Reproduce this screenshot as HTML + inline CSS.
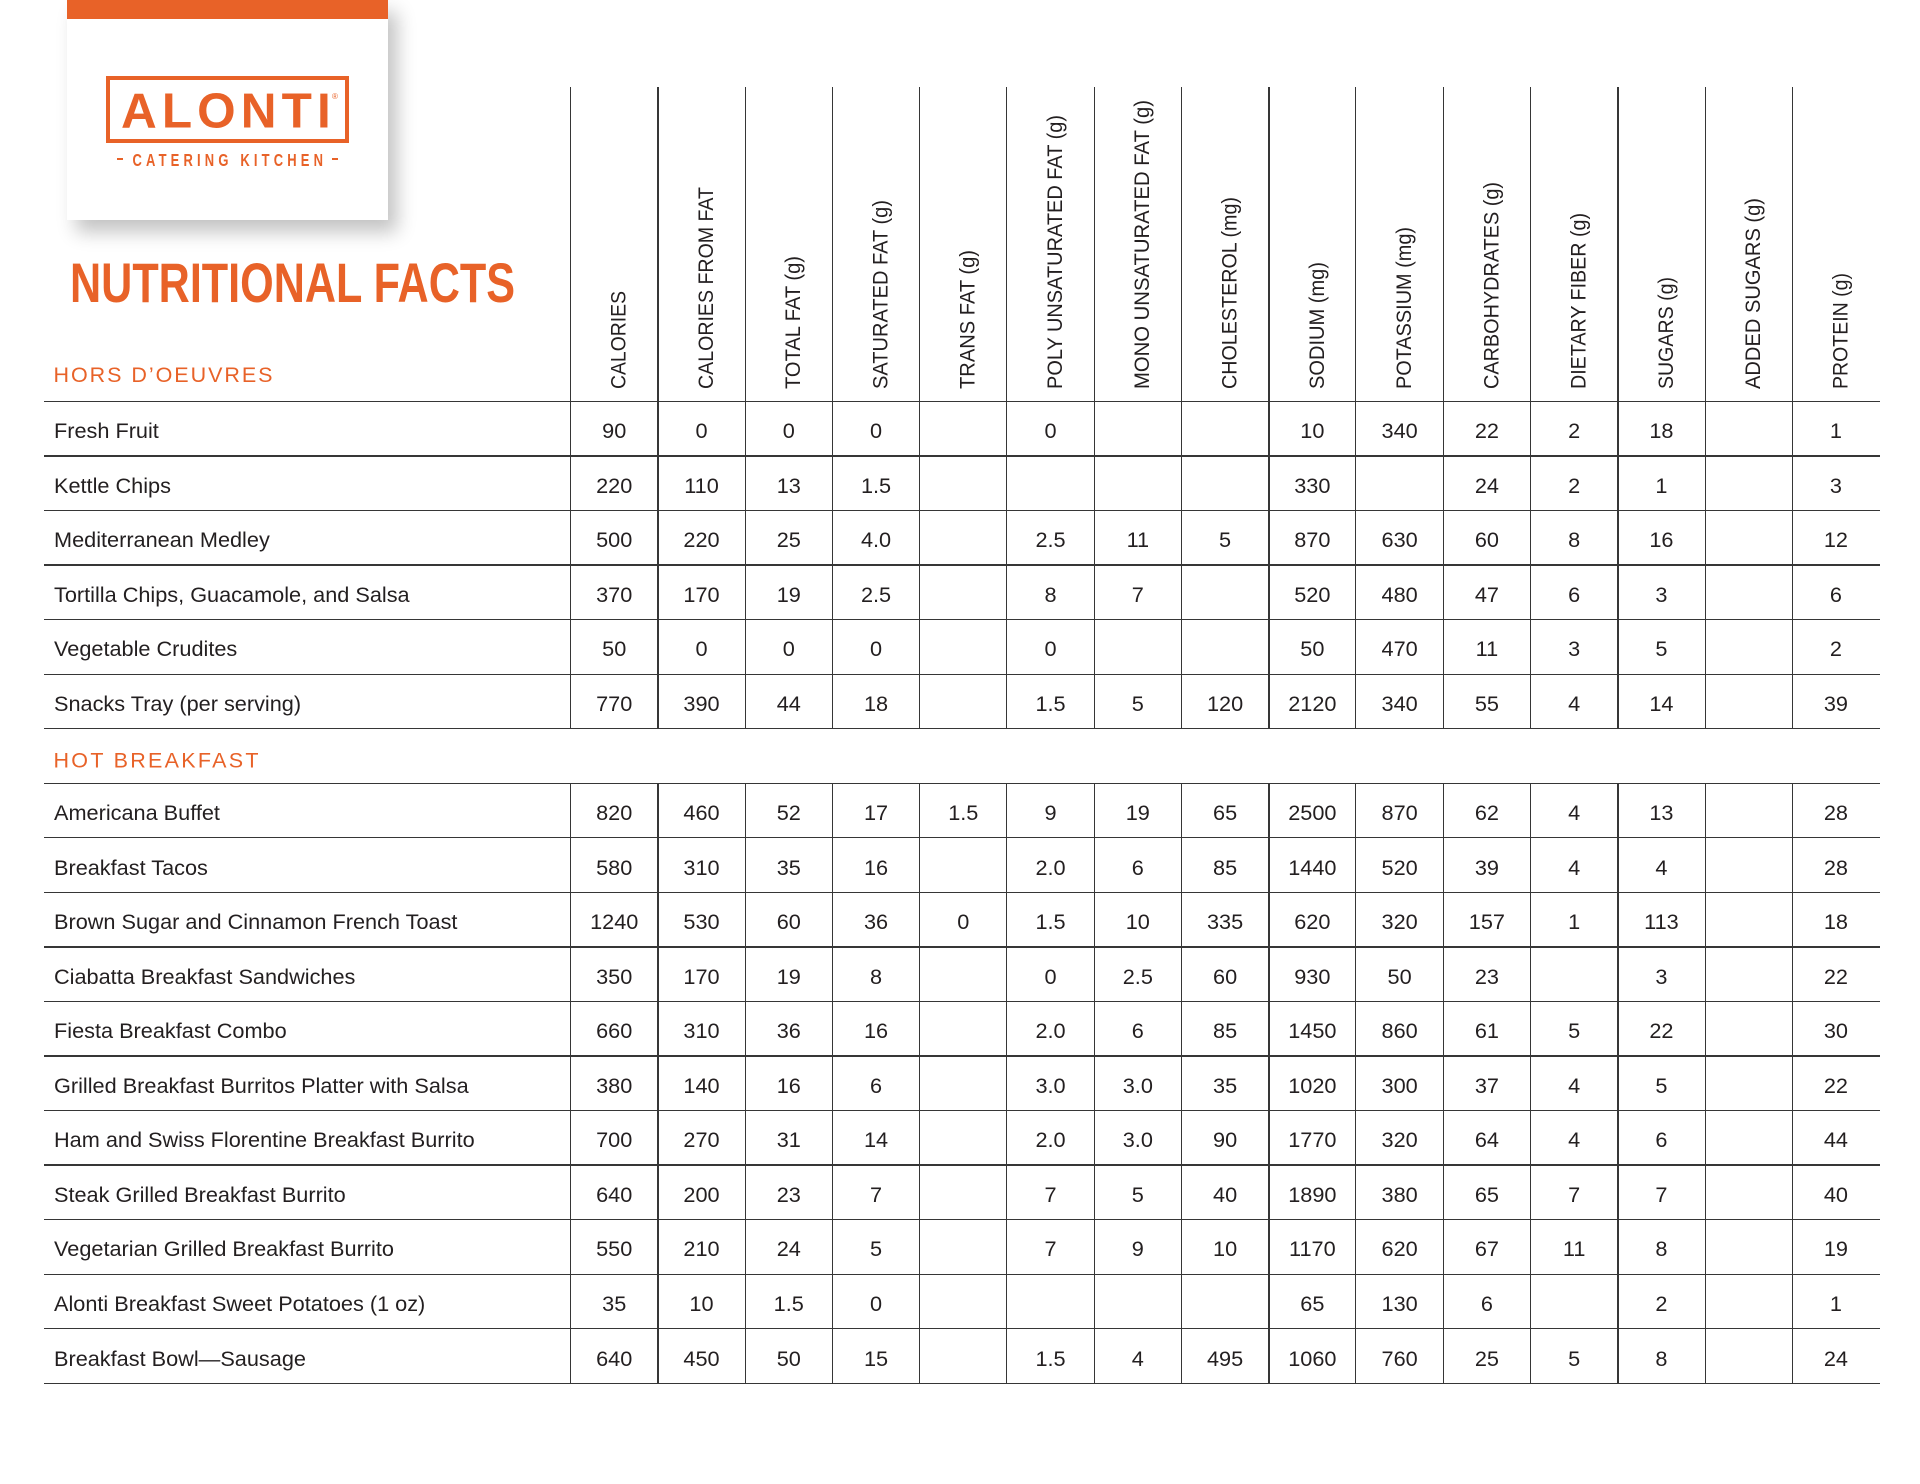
<!DOCTYPE html>
<html>
<head>
<meta charset="utf-8">
<style>
  html,body{margin:0;padding:0;background:#fff;}
  body{width:1920px;height:1484px;position:relative;overflow:hidden;font-family:"Liberation Sans",sans-serif;}
  .card{position:absolute;left:67px;top:0;width:321px;height:220px;background:#fff;box-shadow:9px 12px 18px rgba(0,0,0,0.24);}
  .card .bar{height:19px;background:#e86228;}
  svg.ov{position:absolute;left:0;top:0;}
  .r{position:absolute;left:0;width:1920px;height:54.55px;line-height:54.55px;font-size:21.7px;color:#231f20;}
  .r b{font-weight:normal;position:absolute;left:54px;top:0;white-space:nowrap;}
  .r .c{position:absolute;left:570.6px;top:0;display:grid;grid-template-columns:repeat(15,87.27px);text-align:center;}
  .r .c i{font-style:normal;display:block;height:54.55px;}
</style>
</head>
<body>
<div class="card"><div class="bar"></div></div>

<svg class="ov" width="1920" height="1484" viewBox="0 0 1920 1484" xmlns="http://www.w3.org/2000/svg">
  <!-- Logo -->
  <rect x="108" y="78" width="239" height="63" fill="none" stroke="#e86228" stroke-width="4"/>
  <text x="121" y="127.7" font-family="Liberation Sans, sans-serif" font-weight="bold" font-size="49.5" letter-spacing="5.1" fill="#e86228">ALONTI</text>
  <text x="332" y="99" font-family="Liberation Sans, sans-serif" font-size="8" fill="#e86228">®</text>
  <rect x="117" y="158" width="6" height="2" fill="#e86228"/>
  <rect x="332" y="158" width="6" height="2" fill="#e86228"/>
  <text transform="translate(132.5,166) scale(0.72,1)" font-family="Liberation Sans, sans-serif" font-weight="bold" font-size="18" letter-spacing="5.8" fill="#e86228">CATERING KITCHEN</text>

  <!-- Title -->
  <text x="70" y="302" font-family="Liberation Sans, sans-serif" font-weight="bold" font-size="56" textLength="445" lengthAdjust="spacingAndGlyphs" fill="#e86228">NUTRITIONAL FACTS</text>

  <!-- Section labels -->
  <text x="53.5" y="382" font-family="Liberation Sans, sans-serif" font-size="21.5" textLength="219" lengthAdjust="spacing" fill="#e86228">HORS D’OEUVRES</text>
  <text x="53.5" y="767.3" font-family="Liberation Sans, sans-serif" font-size="21.5" textLength="205" lengthAdjust="spacing" fill="#e86228">HOT BREAKFAST</text>

  <!-- Horizontal lines -->
  <g fill="#363636" shape-rendering="crispEdges">
    <rect x="44" y="401" width="1836" height="1"/>
    <rect x="44" y="455" width="1836" height="2"/>
    <rect x="44" y="510" width="1836" height="1"/>
    <rect x="44" y="564" width="1836" height="2"/>
    <rect x="44" y="619" width="1836" height="1"/>
    <rect x="44" y="674" width="1836" height="1"/>
    <rect x="44" y="728" width="1836" height="1"/>
    <rect x="44" y="783" width="1836" height="1"/>
    <rect x="44" y="837" width="1836" height="1"/>
    <rect x="44" y="892" width="1836" height="1"/>
    <rect x="44" y="946" width="1836" height="2"/>
    <rect x="44" y="1001" width="1836" height="1"/>
    <rect x="44" y="1055" width="1836" height="2"/>
    <rect x="44" y="1110" width="1836" height="1"/>
    <rect x="44" y="1164" width="1836" height="2"/>
    <rect x="44" y="1219" width="1836" height="1"/>
    <rect x="44" y="1274" width="1836" height="1"/>
    <rect x="44" y="1328" width="1836" height="1"/>
    <rect x="44" y="1383" width="1836" height="1"/>
  </g>

  <!-- Vertical lines (top block) -->
  <g fill="#363636" shape-rendering="crispEdges">
    <rect x="570" y="87" width="1" height="642"/>
    <rect x="657" y="87" width="2" height="642"/>
    <rect x="745" y="87" width="1" height="642"/>
    <rect x="832" y="87" width="1" height="642"/>
    <rect x="919" y="87" width="1" height="642"/>
    <rect x="1006" y="87" width="1" height="642"/>
    <rect x="1094" y="87" width="1" height="642"/>
    <rect x="1181" y="87" width="1" height="642"/>
    <rect x="1268" y="87" width="2" height="642"/>
    <rect x="1355" y="87" width="1" height="642"/>
    <rect x="1443" y="87" width="1" height="642"/>
    <rect x="1530" y="87" width="1" height="642"/>
    <rect x="1617" y="87" width="2" height="642"/>
    <rect x="1705" y="87" width="1" height="642"/>
    <rect x="1792" y="87" width="1" height="642"/>
  </g>
  <!-- Vertical lines (bottom block) -->
  <g fill="#363636" shape-rendering="crispEdges">
    <rect x="570" y="783" width="1" height="601"/>
    <rect x="657" y="783" width="2" height="601"/>
    <rect x="745" y="783" width="1" height="601"/>
    <rect x="832" y="783" width="1" height="601"/>
    <rect x="919" y="783" width="1" height="601"/>
    <rect x="1006" y="783" width="1" height="601"/>
    <rect x="1094" y="783" width="1" height="601"/>
    <rect x="1181" y="783" width="1" height="601"/>
    <rect x="1268" y="783" width="2" height="601"/>
    <rect x="1355" y="783" width="1" height="601"/>
    <rect x="1443" y="783" width="1" height="601"/>
    <rect x="1530" y="783" width="1" height="601"/>
    <rect x="1617" y="783" width="2" height="601"/>
    <rect x="1705" y="783" width="1" height="601"/>
    <rect x="1792" y="783" width="1" height="601"/>
  </g>

  <!-- Rotated column headers -->
  <g font-family="Liberation Sans, sans-serif" font-size="21" fill="#231f20">
    <text transform="translate(625.6,389) rotate(-90)" textLength="98" lengthAdjust="spacingAndGlyphs">CALORIES</text>
    <text transform="translate(712.9,389) rotate(-90)" textLength="202" lengthAdjust="spacingAndGlyphs">CALORIES FROM FAT</text>
    <text transform="translate(800.1,389) rotate(-90)" textLength="133" lengthAdjust="spacingAndGlyphs">TOTAL FAT (g)</text>
    <text transform="translate(887.4,389) rotate(-90)" textLength="189" lengthAdjust="spacingAndGlyphs">SATURATED FAT (g)</text>
    <text transform="translate(974.7,389) rotate(-90)" textLength="139" lengthAdjust="spacingAndGlyphs">TRANS FAT (g)</text>
    <text transform="translate(1062,389) rotate(-90)" textLength="274" lengthAdjust="spacingAndGlyphs">POLY UNSATURATED FAT (g)</text>
    <text transform="translate(1149.2,389) rotate(-90)" textLength="289" lengthAdjust="spacingAndGlyphs">MONO UNSATURATED FAT (g)</text>
    <text transform="translate(1236.5,389) rotate(-90)" textLength="192" lengthAdjust="spacingAndGlyphs">CHOLESTEROL (mg)</text>
    <text transform="translate(1323.8,389) rotate(-90)" textLength="127" lengthAdjust="spacingAndGlyphs">SODIUM (mg)</text>
    <text transform="translate(1411,389) rotate(-90)" textLength="162" lengthAdjust="spacingAndGlyphs">POTASSIUM (mg)</text>
    <text transform="translate(1498.3,389) rotate(-90)" textLength="207" lengthAdjust="spacingAndGlyphs">CARBOHYDRATES (g)</text>
    <text transform="translate(1585.6,389) rotate(-90)" textLength="176" lengthAdjust="spacingAndGlyphs">DIETARY FIBER (g)</text>
    <text transform="translate(1672.8,389) rotate(-90)" textLength="112" lengthAdjust="spacingAndGlyphs">SUGARS (g)</text>
    <text transform="translate(1760.1,389) rotate(-90)" textLength="191" lengthAdjust="spacingAndGlyphs">ADDED SUGARS (g)</text>
    <text transform="translate(1847.4,389) rotate(-90)" textLength="116" lengthAdjust="spacingAndGlyphs">PROTEIN (g)</text>
  </g>
</svg>

<!-- HORS D'OEUVRES rows -->
<div class="r" style="top:404.2px"><b>Fresh Fruit</b><div class="c"><i>90</i><i>0</i><i>0</i><i>0</i><i></i><i>0</i><i></i><i></i><i>10</i><i>340</i><i>22</i><i>2</i><i>18</i><i></i><i>1</i></div></div>
<div class="r" style="top:458.75px"><b>Kettle Chips</b><div class="c"><i>220</i><i>110</i><i>13</i><i>1.5</i><i></i><i></i><i></i><i></i><i>330</i><i></i><i>24</i><i>2</i><i>1</i><i></i><i>3</i></div></div>
<div class="r" style="top:513.3px"><b>Mediterranean Medley</b><div class="c"><i>500</i><i>220</i><i>25</i><i>4.0</i><i></i><i>2.5</i><i>11</i><i>5</i><i>870</i><i>630</i><i>60</i><i>8</i><i>16</i><i></i><i>12</i></div></div>
<div class="r" style="top:567.85px"><b>Tortilla Chips, Guacamole, and Salsa</b><div class="c"><i>370</i><i>170</i><i>19</i><i>2.5</i><i></i><i>8</i><i>7</i><i></i><i>520</i><i>480</i><i>47</i><i>6</i><i>3</i><i></i><i>6</i></div></div>
<div class="r" style="top:622.4px"><b>Vegetable Crudites</b><div class="c"><i>50</i><i>0</i><i>0</i><i>0</i><i></i><i>0</i><i></i><i></i><i>50</i><i>470</i><i>11</i><i>3</i><i>5</i><i></i><i>2</i></div></div>
<div class="r" style="top:676.95px"><b>Snacks Tray (per serving)</b><div class="c"><i>770</i><i>390</i><i>44</i><i>18</i><i></i><i>1.5</i><i>5</i><i>120</i><i>2120</i><i>340</i><i>55</i><i>4</i><i>14</i><i></i><i>39</i></div></div>

<!-- HOT BREAKFAST rows -->
<div class="r" style="top:786.05px"><b>Americana Buffet</b><div class="c"><i>820</i><i>460</i><i>52</i><i>17</i><i>1.5</i><i>9</i><i>19</i><i>65</i><i>2500</i><i>870</i><i>62</i><i>4</i><i>13</i><i></i><i>28</i></div></div>
<div class="r" style="top:840.6px"><b>Breakfast Tacos</b><div class="c"><i>580</i><i>310</i><i>35</i><i>16</i><i></i><i>2.0</i><i>6</i><i>85</i><i>1440</i><i>520</i><i>39</i><i>4</i><i>4</i><i></i><i>28</i></div></div>
<div class="r" style="top:895.15px"><b>Brown Sugar and Cinnamon French Toast</b><div class="c"><i>1240</i><i>530</i><i>60</i><i>36</i><i>0</i><i>1.5</i><i>10</i><i>335</i><i>620</i><i>320</i><i>157</i><i>1</i><i>113</i><i></i><i>18</i></div></div>
<div class="r" style="top:949.7px"><b>Ciabatta Breakfast Sandwiches</b><div class="c"><i>350</i><i>170</i><i>19</i><i>8</i><i></i><i>0</i><i>2.5</i><i>60</i><i>930</i><i>50</i><i>23</i><i></i><i>3</i><i></i><i>22</i></div></div>
<div class="r" style="top:1004.25px"><b>Fiesta Breakfast Combo</b><div class="c"><i>660</i><i>310</i><i>36</i><i>16</i><i></i><i>2.0</i><i>6</i><i>85</i><i>1450</i><i>860</i><i>61</i><i>5</i><i>22</i><i></i><i>30</i></div></div>
<div class="r" style="top:1058.8px"><b>Grilled Breakfast Burritos Platter with Salsa</b><div class="c"><i>380</i><i>140</i><i>16</i><i>6</i><i></i><i>3.0</i><i>3.0</i><i>35</i><i>1020</i><i>300</i><i>37</i><i>4</i><i>5</i><i></i><i>22</i></div></div>
<div class="r" style="top:1113.35px"><b>Ham and Swiss Florentine Breakfast Burrito</b><div class="c"><i>700</i><i>270</i><i>31</i><i>14</i><i></i><i>2.0</i><i>3.0</i><i>90</i><i>1770</i><i>320</i><i>64</i><i>4</i><i>6</i><i></i><i>44</i></div></div>
<div class="r" style="top:1167.9px"><b>Steak Grilled Breakfast Burrito</b><div class="c"><i>640</i><i>200</i><i>23</i><i>7</i><i></i><i>7</i><i>5</i><i>40</i><i>1890</i><i>380</i><i>65</i><i>7</i><i>7</i><i></i><i>40</i></div></div>
<div class="r" style="top:1222.45px"><b>Vegetarian Grilled Breakfast Burrito</b><div class="c"><i>550</i><i>210</i><i>24</i><i>5</i><i></i><i>7</i><i>9</i><i>10</i><i>1170</i><i>620</i><i>67</i><i>11</i><i>8</i><i></i><i>19</i></div></div>
<div class="r" style="top:1277px"><b>Alonti Breakfast Sweet Potatoes (1 oz)</b><div class="c"><i>35</i><i>10</i><i>1.5</i><i>0</i><i></i><i></i><i></i><i></i><i>65</i><i>130</i><i>6</i><i></i><i>2</i><i></i><i>1</i></div></div>
<div class="r" style="top:1331.55px"><b>Breakfast Bowl—Sausage</b><div class="c"><i>640</i><i>450</i><i>50</i><i>15</i><i></i><i>1.5</i><i>4</i><i>495</i><i>1060</i><i>760</i><i>25</i><i>5</i><i>8</i><i></i><i>24</i></div></div>

</body>
</html>
